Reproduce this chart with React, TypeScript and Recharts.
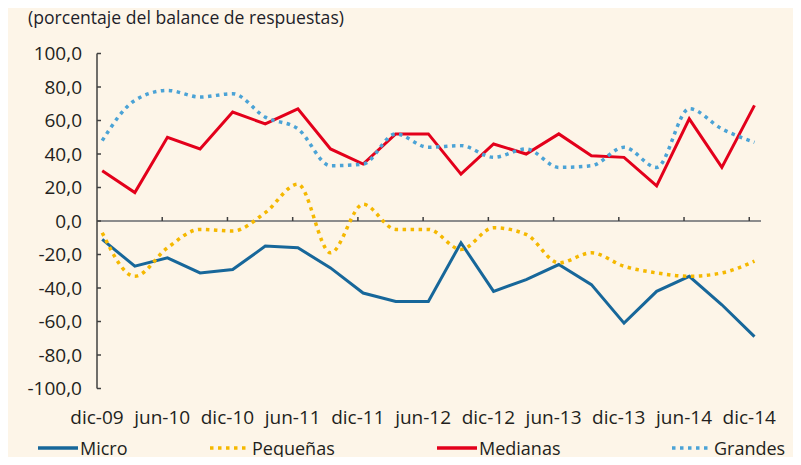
import React from "react";
import { LineChart, Line, XAxis, YAxis, ReferenceLine } from "recharts";

const QUARTERS = [
  "dic-09", "mar-10", "jun-10", "sep-10", "dic-10", "mar-11", "jun-11", "sep-11",
  "dic-11", "mar-12", "jun-12", "sep-12", "dic-12", "mar-13", "jun-13", "sep-13",
  "dic-13", "mar-14", "jun-14", "sep-14", "dic-14",
];

const MICRO = [-11, -27, -22, -31, -29, -15, -16, -28, -43, -48, -48, -13, -42, -35, -26, -38, -61, -42, -33, -50, -69];
const PEQUENAS = [-7, -33, -16, -5, -6, 5, 22, -19, 10, -5, -5, -17, -4, -8, -25, -19, -27, -31, -33, -31, -24];
const MEDIANAS = [30, 17, 50, 43, 65, 58, 67, 43, 34, 52, 52, 28, 46, 40, 52, 39, 38, 21, 61, 32, 69];
const GRANDES = [48, 72, 78, 74, 76, 62, 55, 33, 34, 52, 44, 45, 38, 43, 32, 33, 44, 32, 67, 55, 47];

const Y_TICKS = [-100, -80, -60, -40, -20, 0, 20, 40, 60, 80, 100];

// labels sit a little to the left of the quarter points in the original
const TICK_SHIFT = -0.16;
const LABEL_IDX = [0, 2, 4, 6, 8, 10, 12, 14, 16, 18, 20];

const data = QUARTERS.map((q, i) => ({
  q: i,
  label: q,
  micro: MICRO[i],
  pequenas: PEQUENAS[i],
  medianas: MEDIANAS[i],
  grandes: GRANDES[i],
}));

const SERIES = [
  { key: "micro", name: "Micro", color: "#17679A", dotted: false },
  { key: "pequenas", name: "Pequeñas", color: "#F5B800", dotted: true },
  { key: "medianas", name: "Medianas", color: "#E3001B", dotted: false },
  { key: "grandes", name: "Grandes", color: "#4BA3D6", dotted: true },
];

const LEGEND_LEFT = [38, 210, 437, 672];

const FONT = '"Open Sans", "DejaVu Sans", sans-serif';
const INK = "#231F20";

const fmtY = (v: number) => v.toFixed(1).replace(".", ",");
const fmtX = (v: number) => QUARTERS[Math.round(v - TICK_SHIFT)] ?? "";

export default function App() {
  const xTicks = LABEL_IDX.map((i) => i + TICK_SHIFT);
  return (
    <div style={{ position: "relative", width: 801, height: 465, margin: -8, background: "#fff", fontFamily: FONT }}>
      <div style={{ position: "absolute", left: 7, top: 7, right: 0, bottom: 0, background: "#FDF5E8" }} />
      <div style={{ position: "absolute", left: 28, top: 5, fontSize: 17.6, lineHeight: "24px", color: "#1E1E2A" }}>
        (porcentaje del balance de respuestas)
      </div>
      <div style={{ position: "absolute", left: 0, top: 0 }}>
        <LineChart width={801} height={465} data={data} margin={{ top: 53.5, right: 40, bottom: 46.5, left: 0 }}>
          <XAxis
            dataKey="q"
            type="number"
            domain={[TICK_SHIFT, 20.2]}
            ticks={xTicks}
            tickFormatter={fmtX}
            axisLine={false}
            tickLine={false}
            height={30}
            tickSize={4}
            tickMargin={18}
            tick={{ fill: INK, fontSize: 19, fontFamily: FONT }}
          />
          <YAxis
            domain={[-100, 100]}
            ticks={Y_TICKS}
            tickFormatter={fmtY}
            width={97}
            axisLine={{ stroke: "#404040", strokeWidth: 1.5 }}
            tickLine={{ stroke: "#404040", strokeWidth: 1.5 }}
            tickSize={-4}
            tickMargin={19}
            tick={{ fill: INK, fontSize: 19, fontFamily: FONT }}
          />
          <ReferenceLine y={0} stroke="#8C8C8C" strokeWidth={2} />
          {xTicks.slice(1).map((t) => (
            <ReferenceLine
              key={t}
              segment={[{ x: t, y: 0 }, { x: t, y: 2.4 }]}
              stroke="#404040"
              strokeWidth={1.5}
            />
          ))}
          {SERIES.map((s) => (
            <Line
              key={s.key}
              dataKey={s.key}
              name={s.name}
              type={s.dotted ? "monotone" : "linear"}
              stroke={s.color}
              strokeWidth={s.dotted ? 3.5 : 3}
              strokeDasharray={s.dotted ? "3.5 4.5" : undefined}
              dot={false}
              activeDot={false}
              isAnimationActive={false}
            />
          ))}
        </LineChart>
      </div>
      {SERIES.map((s, i) => (
        <div
          key={s.key}
          style={{
            position: "absolute",
            left: LEGEND_LEFT[i],
            top: 436,
            display: "flex",
            alignItems: "center",
            fontSize: 18,
            lineHeight: "24px",
            color: INK,
          }}
        >
          <svg width={40} height={10}>
            <line
              x1={0}
              y1={5}
              x2={40}
              y2={5}
              stroke={s.color}
              strokeWidth={3.5}
              strokeDasharray={s.dotted ? "3.5 4.5" : undefined}
            />
          </svg>
          <span style={{ marginLeft: 2 }}>{s.name}</span>
        </div>
      ))}
    </div>
  );
}
